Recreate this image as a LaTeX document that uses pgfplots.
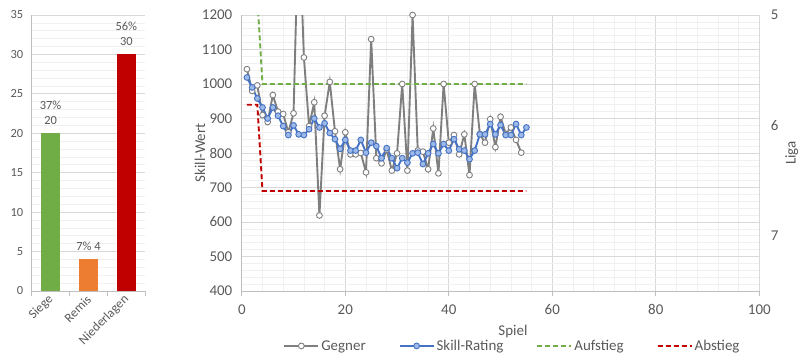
\documentclass[border=0pt]{standalone}
\usepackage{pgfplots}
\usepackage{pgfplotstable}
\pgfplotsset{compat=1.18}
\usepackage{fontspec}
\setmainfont{Carlito}
\definecolor{txt}{HTML}{595959}
\definecolor{gmaj}{HTML}{D9D9D9}
\definecolor{gmin}{HTML}{F0F0F0}
\definecolor{axl}{HTML}{BFBFBF}
\definecolor{cgreen}{HTML}{70AD47}
\definecolor{corange}{HTML}{ED7D31}
\definecolor{cred}{HTML}{C00000}
\definecolor{cgrey}{HTML}{7F7F7F}
\definecolor{cblue}{HTML}{4472C4}
\definecolor{cbluef}{HTML}{9DB9E8}

\pgfplotstableread{
x y
1 1043
2 980
3 996
4 910
5 890
6 968
7 920
8 913
9 860
10 915
11 1500
12 1077
13 878
14 947
15 619
16 908
17 1006
18 863
19 753
20 860
21 796
22 796
23 800
24 744
25 1130
26 785
27 770
28 810
29 749
30 799
31 1000
32 749
33 1200
34 807
35 804
36 753
37 871
38 741
39 1000
40 830
41 852
42 796
43 854
44 736
45 1000
46 855
47 830
48 898
49 817
50 905
51 855
52 874
53 838
54 801
}\gegner

\pgfplotstableread{
x y
1 1019
2 990
3 958
4 932
5 900
6 932
7 908
8 878
9 852
10 880
11 854
12 852
13 869
14 900
15 874
16 886
17 858
18 840
19 812
20 838
21 807
22 807
23 838
24 801
25 830
26 820
27 785
28 814
29 785
30 756
31 785
32 772
33 799
34 801
35 768
36 799
37 826
38 799
39 826
40 807
41 840
42 811
43 807
44 782
45 807
46 854
47 854
48 884
49 854
50 881
51 852
52 852
53 884
54 852
55 874
}\skill

\pgfplotstableread{
x y
1 1250
2 1250
3 1250
4 1000
55 1000
}\aufstieg

\pgfplotstableread{
x y
1 940
2 940
3 940
4 690
55 690
}\abstieg

\begin{document}
\begin{tikzpicture}
\path[use as bounding box] (0,0) rectangle (800bp,360bp);

% ---------- bar chart ----------
\begin{axis}[
  at={(31.7bp,69bp)}, anchor=south west,
  scale only axis, width=113.6bp, height=276bp,
  font=\fontsize{12.5}{15}\selectfont, color=txt,
  /pgf/number format/assume math mode=true,
  xmin=-0.5, xmax=2.5, ymin=0, ymax=35,
  ytick={0,5,...,35}, minor y tick num=4,
  ymajorgrids, yminorgrids,
  major grid style={gmaj, line width=0.75bp},
  minor grid style={gmin, line width=0.75bp},
  axis x line*=bottom, axis y line*=left,
  axis line style={axl, line width=0.75bp},
  xtick={0,1,2}, xticklabels={Siege,Remis,Niederlagen},
  xticklabel style={rotate=45, anchor=east, text=txt, yshift=-5bp, xshift=-1bp, font=\fontsize{13}{15}\selectfont},
  yticklabel style={text=txt, xshift=-5bp},
  major tick length=0pt, minor tick length=0pt,
  extra x ticks={-0.5,0.5,1.5,2.5}, extra x tick labels={},
  extra x tick style={major tick length=5bp, tick style={axl, line width=0.75bp}, xtick pos=bottom, xtick align=outside},
  nodes near coords style={font=\fontsize{12.5}{15}\selectfont, text=txt, align=center, anchor=south, yshift=5bp},
]
\addplot[ybar, bar width=19bp, bar shift=0pt, fill=cgreen, draw=none,
  nodes near coords={37\%\\20}] coordinates {(0,20)};
\addplot[ybar, bar width=19bp, bar shift=0pt, fill=corange, draw=none,
  nodes near coords={7\% 4}] coordinates {(1,4)};
\addplot[ybar, bar width=19bp, bar shift=0pt, fill=cred, draw=none,
  nodes near coords={56\%\\30}] coordinates {(2,30)};
\end{axis}

% ---------- secondary axis (Liga) ----------
\begin{axis}[
  at={(241.8bp,69bp)}, anchor=south west,
  scale only axis, width=517.5bp, height=276bp,
  font=\fontsize{15}{18}\selectfont,
  /pgf/number format/assume math mode=true,
  xmin=0, xmax=100, ymin=5, ymax=7.5, y dir=reverse,
  hide x axis, axis y line*=right,
  y axis line style={draw=none},
  ytick={5,6,7}, major tick length=0pt,
  yticklabel style={text=txt, anchor=west, xshift=8bp},
  ylabel={Liga},
  every axis y label/.style={at={(axis description cs:1.0626,0.5)}, rotate=90, anchor=center, text=txt},
]
\addplot[draw=none] coordinates {(0,6)};
\end{axis}

% ---------- main chart ----------
\begin{axis}[
  at={(241.8bp,69bp)}, anchor=south west,
  scale only axis, width=517.5bp, height=276bp,
  font=\fontsize{15}{18}\selectfont,
  /pgf/number format/assume math mode=true,
  /pgf/number format/1000 sep={},
  xmin=0, xmax=100, ymin=400, ymax=1200,
  xtick={0,20,...,100}, ytick={400,500,...,1200},
  minor x tick num=4, minor y tick num=4,
  grid=both,
  major grid style={gmaj, line width=0.75bp},
  minor grid style={gmin, line width=0.75bp},
  axis x line*=bottom, axis y line*=left,
  axis line style={axl, line width=0.75bp},
  x axis line style={-}, y axis line style={-},
  xtick align=outside, major tick length=5bp, minor tick length=0pt,
  ytick style={draw=none},
  xtick style={axl, line width=0.75bp},
  xticklabel style={text=txt, yshift=-5bp},
  yticklabel style={text=txt, xshift=-6bp},
  xlabel={Spiel}, ylabel={Skill-Wert},
  every axis x label/.style={at={(axis description cs:0.524,-0.1486)}, anchor=center, text=txt},
  every axis y label/.style={at={(axis description cs:-0.081,0.5)}, rotate=90, anchor=center, text=txt},
  legend columns=4,
  legend style={at={(axis description cs:0.523,-0.199)}, anchor=center, draw=none, fill=none,
    text=txt, font=\fontsize{15}{18}\selectfont,
    /tikz/every even column/.append style={column sep=31bp},
    nodes={inner sep=2bp}},
  legend image code/.code={\draw[mark repeat=2, mark phase=2, #1] plot coordinates {(0bp,0bp) (17bp,0bp) (34bp,0bp)};},
]
\addplot[cgrey, line width=1.9bp, mark=*, mark size=2.9bp,
  mark options={fill=white, draw=cgrey, line width=0.9bp, solid}] table {\gegner};
\addlegendentry{Gegner}
\addplot[cblue, line width=1.9bp, mark=*, mark size=2.9bp,
  mark options={fill=cbluef, draw=cblue, line width=0.9bp, solid}] table {\skill};
\addlegendentry{Skill-Rating}
\addplot[cgreen, line width=1.9bp, dash pattern=on 5bp off 3bp] table {\aufstieg};
\addlegendentry{Aufstieg}
\addplot[cred, line width=1.9bp, dash pattern=on 5bp off 3bp] table {\abstieg};
\addlegendentry{Abstieg}
\end{axis}
\end{tikzpicture}
\end{document}
